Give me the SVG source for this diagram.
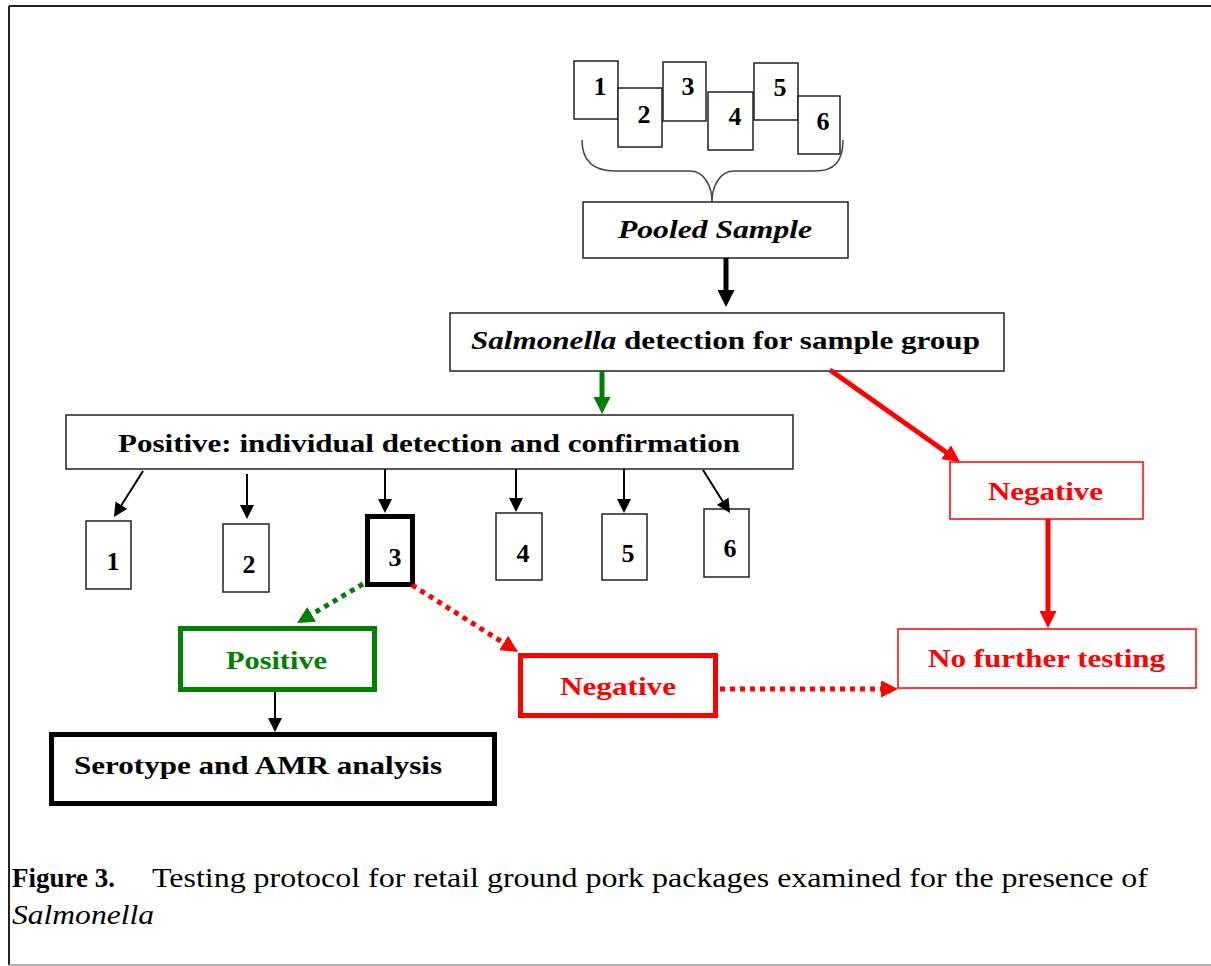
<svg xmlns="http://www.w3.org/2000/svg" width="1211" height="966" viewBox="0 0 1211 966">
<style>
  .t { font-family: "Liberation Serif", "Times New Roman", serif; font-weight: bold; font-size: 26px; fill: #000; }
  .it { font-style: italic; }
  .red { fill: #ff0000; }
  .grn { fill: #008000; }
  .box { fill: #fff; stroke: #222; stroke-width: 1.5; }
  .thick { fill: #fff; stroke: #000; stroke-width: 5; }
  .rbox { fill: #fff; stroke: #ff0000; stroke-width: 1.5; }
  .rthick { fill: #fff; stroke: #ff0000; stroke-width: 5; }
  .gthick { fill: #fff; stroke: #008000; stroke-width: 5; }
  .thin { stroke: #000; stroke-width: 2; fill: none; marker-end: url(#ab); }
  .cap { font-family: "Liberation Serif", "Times New Roman", serif; font-size: 27px; fill: #000; }
</style>
<defs>
  <marker id="ab" viewBox="0 0 14 14" markerWidth="14" markerHeight="14" markerUnits="userSpaceOnUse" refX="1" refY="7" orient="auto">
    <path d="M0,0 L14,7 L0,14 z" fill="#000"/>
  </marker>
  <marker id="abk" viewBox="0 0 17 17" markerWidth="17" markerHeight="17" markerUnits="userSpaceOnUse" refX="1" refY="8.5" orient="auto">
    <path d="M0,0 L17,8.5 L0,17 z" fill="#000"/>
  </marker>
  <marker id="ag" viewBox="0 0 17 17" markerWidth="17" markerHeight="17" markerUnits="userSpaceOnUse" refX="1" refY="8.5" orient="auto">
    <path d="M0,0 L17,8.5 L0,17 z" fill="#008000"/>
  </marker>
  <marker id="ar" viewBox="0 0 17 17" markerWidth="17" markerHeight="17" markerUnits="userSpaceOnUse" refX="1" refY="8.5" orient="auto">
    <path d="M0,0 L17,8.5 L0,17 z" fill="#ff0000"/>
  </marker>
</defs>
<rect width="1211" height="966" fill="#fff"/>
<g id="frame">
  <line x1="9" y1="6" x2="1211" y2="6" stroke="#222" stroke-width="2"/>
  <line x1="9" y1="6" x2="9" y2="965" stroke="#222" stroke-width="2"/>
  <line x1="9" y1="965" x2="1211" y2="965" stroke="#999" stroke-width="1.5"/>
</g>

<g id="samples">
  <g id="s1"><rect class="box" x="574" y="61" width="44" height="58"/><text class="t" x="600" y="95" text-anchor="middle">1</text></g>
  <g id="s2"><rect class="box" x="618" y="88" width="44" height="59"/><text class="t" x="644" y="123" text-anchor="middle">2</text></g>
  <g id="s3"><rect class="box" x="663" y="62" width="43" height="59"/><text class="t" x="688" y="95" text-anchor="middle">3</text></g>
  <g id="s4"><rect class="box" x="708" y="92" width="45" height="58"/><text class="t" x="735" y="125" text-anchor="middle">4</text></g>
  <g id="s5"><rect class="box" x="754" y="63" width="44" height="57"/><text class="t" x="780" y="96" text-anchor="middle">5</text></g>
  <g id="s6"><rect class="box" x="798" y="96" width="42" height="58"/><text class="t" x="823" y="130" text-anchor="middle">6</text></g>
</g>

<g id="pooled">
  <rect class="box" x="583" y="202" width="265" height="56"/>
  <text class="t it" x="618" y="238" textLength="194" lengthAdjust="spacingAndGlyphs">Pooled Sample</text>
</g>

<g id="detection">
  <rect class="box" x="450" y="313" width="554" height="58"/>
  <text class="t" x="471" y="349" textLength="509" lengthAdjust="spacingAndGlyphs"><tspan class="it">Salmonella</tspan> detection for sample group</text>
</g>

<g id="positive-main">
  <rect class="box" x="66" y="415" width="727" height="54"/>
  <text class="t" x="118" y="452" textLength="622" lengthAdjust="spacingAndGlyphs">Positive: individual detection and confirmation</text>
</g>

<g id="i1"><rect class="box" x="86" y="521" width="45" height="68"/><text class="t" x="113" y="570" text-anchor="middle">1</text></g>
<g id="i2"><rect class="box" x="223" y="524" width="46" height="68"/><text class="t" x="249" y="573" text-anchor="middle">2</text></g>
<g id="i3"><rect class="thick" x="367.5" y="516.5" width="45" height="68"/><text class="t" x="395" y="566" text-anchor="middle">3</text></g>
<g id="i4"><rect class="box" x="496" y="513" width="46" height="67"/><text class="t" x="523" y="562" text-anchor="middle">4</text></g>
<g id="i5"><rect class="box" x="602" y="514" width="45" height="66"/><text class="t" x="628" y="562" text-anchor="middle">5</text></g>
<g id="i6"><rect class="box" x="704" y="509" width="45" height="68"/><text class="t" x="730" y="557" text-anchor="middle">6</text></g>

<g id="negative-group">
  <rect class="rbox" x="950" y="462" width="193" height="57"/>
  <text class="t red" x="988" y="500" textLength="115" lengthAdjust="spacingAndGlyphs">Negative</text>
</g>

<g id="no-further">
  <rect class="rbox" x="898" y="629" width="298" height="59"/>
  <text class="t red" x="928" y="667" textLength="237" lengthAdjust="spacingAndGlyphs">No further testing</text>
</g>

<g id="positive-ind">
  <rect class="gthick" x="180.5" y="628.5" width="194" height="61"/>
  <text class="t grn" x="226" y="669" textLength="101" lengthAdjust="spacingAndGlyphs">Positive</text>
</g>

<g id="negative-ind">
  <rect class="rthick" x="520.5" y="655.5" width="195" height="60"/>
  <text class="t red" x="560" y="695" textLength="116" lengthAdjust="spacingAndGlyphs">Negative</text>
</g>

<g id="serotype">
  <rect class="thick" x="51.5" y="734.5" width="443" height="69"/>
  <text class="t" x="74" y="774" textLength="368" lengthAdjust="spacingAndGlyphs">Serotype and AMR analysis</text>
</g>

<g id="connectors">
  <path d="M582,140 C582,162 594,171 615,171 L690,171 C704,171 712,186 712,202 C712,186 720,171 734,171 L815,171 C834,171 843,162 843,140" fill="none" stroke="#444" stroke-width="1.5"/>
  <line x1="726" y1="258" x2="726" y2="291" stroke="#000" stroke-width="5" marker-end="url(#abk)"/>
  <line x1="602" y1="371" x2="602" y2="398" stroke="#008000" stroke-width="5" marker-end="url(#ag)"/>
  <line x1="830" y1="370" x2="946.9" y2="452.8" stroke="#ff0000" stroke-width="5" marker-end="url(#ar)"/>
  <line x1="1048" y1="519" x2="1048" y2="612" stroke="#ff0000" stroke-width="5" marker-end="url(#ar)"/>
  <line class="thin" x1="143" y1="471" x2="120.9" y2="506"/>
  <line class="thin" x1="247" y1="474" x2="247" y2="506"/>
  <line class="thin" x1="385" y1="469" x2="385" y2="500"/>
  <line class="thin" x1="516" y1="469" x2="516" y2="499"/>
  <line class="thin" x1="624" y1="469" x2="624" y2="500"/>
  <line class="thin" x1="703" y1="470" x2="723.1" y2="502"/>
  <line class="thin" x1="275" y1="692" x2="275" y2="719"/>
  <line x1="363" y1="584" x2="310.8" y2="614.9" stroke="#008000" stroke-width="5" stroke-dasharray="5 5" marker-end="url(#ag)"/>
  <line x1="412" y1="585" x2="504.5" y2="643.5" stroke="#ff0000" stroke-width="5" stroke-dasharray="5 5" marker-end="url(#ar)"/>
  <line x1="720" y1="689" x2="882" y2="689" stroke="#ff0000" stroke-width="5" stroke-dasharray="5 5" marker-end="url(#ar)"/>
</g>

<g id="caption">
  <text class="cap" x="12" y="887" font-weight="bold" textLength="103" lengthAdjust="spacingAndGlyphs">Figure 3.</text>
  <text class="cap" x="152" y="887" textLength="996" lengthAdjust="spacingAndGlyphs">Testing protocol for retail ground pork packages examined for the presence of</text>
  <text class="cap" x="12" y="924" font-style="italic" textLength="142" lengthAdjust="spacingAndGlyphs">Salmonella</text>
</g>
</svg>
